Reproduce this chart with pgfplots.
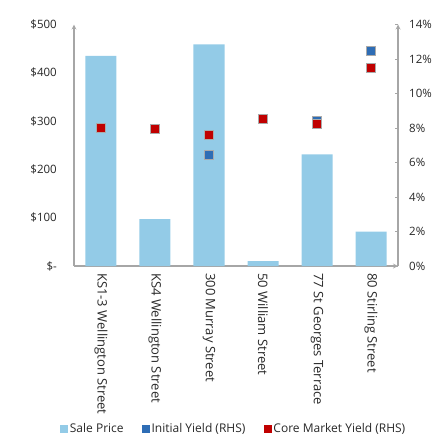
\documentclass[border=0pt]{standalone}
\usepackage{fontspec}
\setmainfont{Open Sans}
\usepackage{pgfplots}
\pgfplotsset{compat=1.18}

\definecolor{barblue}{RGB}{147,203,231}
\definecolor{yieldblue}{RGB}{46,109,181}
\definecolor{yieldred}{RGB}{192,0,0}
\definecolor{axisgrey}{RGB}{166,166,166}
\definecolor{markedge}{RGB}{170,170,170}
\definecolor{textgrey}{RGB}{40,40,40}

\begin{document}
\begin{tikzpicture}
\pgfplotsset{
  every axis/.append style={
    scale only axis, width=324bp, height=241.5bp,
    xmin=-0.5, xmax=5.5,
    axis line style={axisgrey, line width=1.2bp, -},
    tick label style={font=\fontsize{11.5bp}{14bp}\selectfont, text=textgrey},
  },
}
\useasboundingbox (-74bp,-168bp) rectangle (358bp,266bp);

% Sale price bars on the left-hand axis
\begin{axis}[
  axis x line=bottom, axis y line=left,
  ymin=0, ymax=500,
  ytick={0,100,200,300,400,500},
  yticklabels={\$-,\$100,\$200,\$300,\$400,\$500},
  xtick={0,1,2,3,4,5},
  xticklabels={KS1-3 Wellington Street, KS4 Wellington Street, 300 Murray Street, 50 William Street, 77 St Georges Terrace, 80 Stirling Street},
  major tick length=0pt,
  yticklabel style={anchor=east, inner sep=0pt, xshift=-17bp},
  xticklabel style={rotate=-90, anchor=west, inner xsep=7bp, inner ysep=0pt,
    font=\fontsize{13bp}{16bp}\selectfont},
  ybar, bar width=31bp,
]
\addplot[fill=barblue, draw=none] coordinates {(0,435) (1,97) (2,459) (3,10) (4,231) (5,71)};
\end{axis}

% Yields on the right-hand axis
\begin{axis}[
  axis x line=none, axis y line=right,
  ymin=0, ymax=14,
  ytick={0,2,4,6,8,10,12,14},
  yticklabels={0\%,2\%,4\%,6\%,8\%,10\%,12\%,14\%},
  tick align=inside, major tick length=3bp,
  tick style={axisgrey, line width=1bp},
  yticklabel style={anchor=west, inner sep=0pt, xshift=11bp},
  legend columns=3,
  legend style={draw=none, fill=none, inner sep=0pt,
    at={(axis description cs:-0.0432,-0.673)}, anchor=west,
    font=\fontsize{12bp}{14bp}\selectfont, text=textgrey,
    nodes={inner xsep=2.3bp, inner ysep=0pt},
    /tikz/every even column/.append style={column sep=16bp}},
]
\addlegendimage{legend image code/.code={\fill[barblue] (0bp,-3.5bp) rectangle (7bp,3.5bp);}}
\addlegendentry{Sale Price}
\addplot[only marks, mark=square*, mark size=4.5bp,
  mark options={fill=yieldblue, draw=markedge, line width=0.9bp},
  legend image code/.code={\fill[yieldblue] (0bp,-3.5bp) rectangle (7bp,3.5bp);}]
  coordinates {(0,8.01) (1,7.95) (2,6.41) (3,8.54) (4,8.38) (5,12.45)};
\addlegendentry{Initial Yield (RHS)}
\addplot[only marks, mark=square*, mark size=4.5bp,
  mark options={fill=yieldred, draw=markedge, line width=0.9bp},
  legend image code/.code={\fill[yieldred] (0bp,-3.5bp) rectangle (7bp,3.5bp);}]
  coordinates {(0,8.01) (1,7.95) (2,7.62) (3,8.54) (4,8.22) (5,11.51)};
\addlegendentry{Core Market Yield (RHS)}
\end{axis}
\end{tikzpicture}
\end{document}
